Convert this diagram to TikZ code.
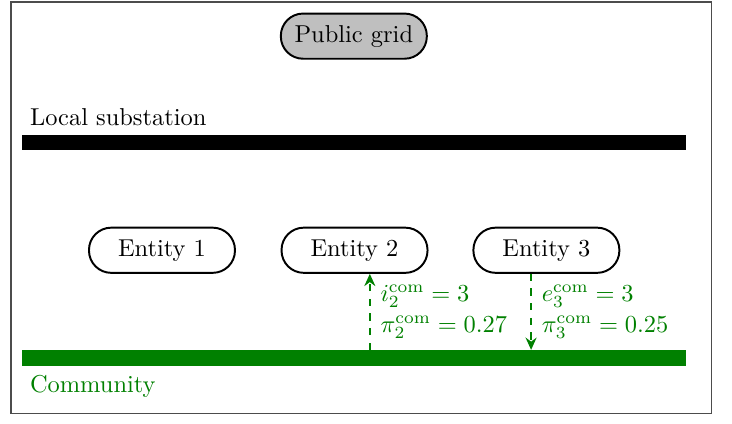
\documentclass[tikz,border=0pt]{standalone}
\usepackage{tikz}
\usetikzlibrary{arrows.meta, positioning}

\definecolor{comgreen}{RGB}{0,128,0}

\tikzset{
	entity/.style={rounded corners=0.32cm, draw, thick, minimum width=2.1cm, minimum height=0.65cm, inner sep=0pt},
	busbar/.style={rectangle, inner sep=0pt, minimum width=9.55cm, minimum height=0.23cm},
	flow/.style={comgreen, thick, dashed, -{Stealth[length=5pt,width=4.5pt]}},
	flowlabel/.style={right, align=left, text=comgreen, inner xsep=4pt}
}

\begin{document}
\begin{tikzpicture}
				\useasboundingbox (0,0) rectangle (10.53,6.09);
				\draw[black!70, line width=0.5pt] (0.158,0.144) rectangle (10.23,6.06);

				\node[entity, fill=black!25] (grid) at (5.09,5.57) {Public grid};

				\node[busbar, fill=black] (sub) at (5.09,4.04) {};
				\node[anchor=south west] (sublabel) at (sub.north west) {Local substation};

				\node[entity] (e1) at (2.33,2.49) {Entity 1};
				\node[entity] (e2) at (5.10,2.49) {Entity 2};
				\node[entity] (e3) at (7.86,2.49) {Entity 3};

				\node[busbar, fill=comgreen] (com) at (5.09,0.935) {};
				\node[anchor=north west, text=comgreen] (comlabel) at (com.south west) {Community};

				\draw[flow] ([xshift=0.22cm]e2.south |- com.north) -- ([xshift=0.22cm]e2.south)
					node[midway, flowlabel] (imp2) {$i_2^{\mathrm{com}} = 3$\\[1pt]$\pi_2^{\mathrm{com}} = 0.27$};
				\draw[flow] ([xshift=-0.22cm]e3.south) -- ([xshift=-0.22cm]e3.south |- com.north)
					node[midway, flowlabel] (exp3) {$e_3^{\mathrm{com}} = 3$\\[1pt]$\pi_3^{\mathrm{com}} = 0.25$};
			\end{tikzpicture}
\end{document}
